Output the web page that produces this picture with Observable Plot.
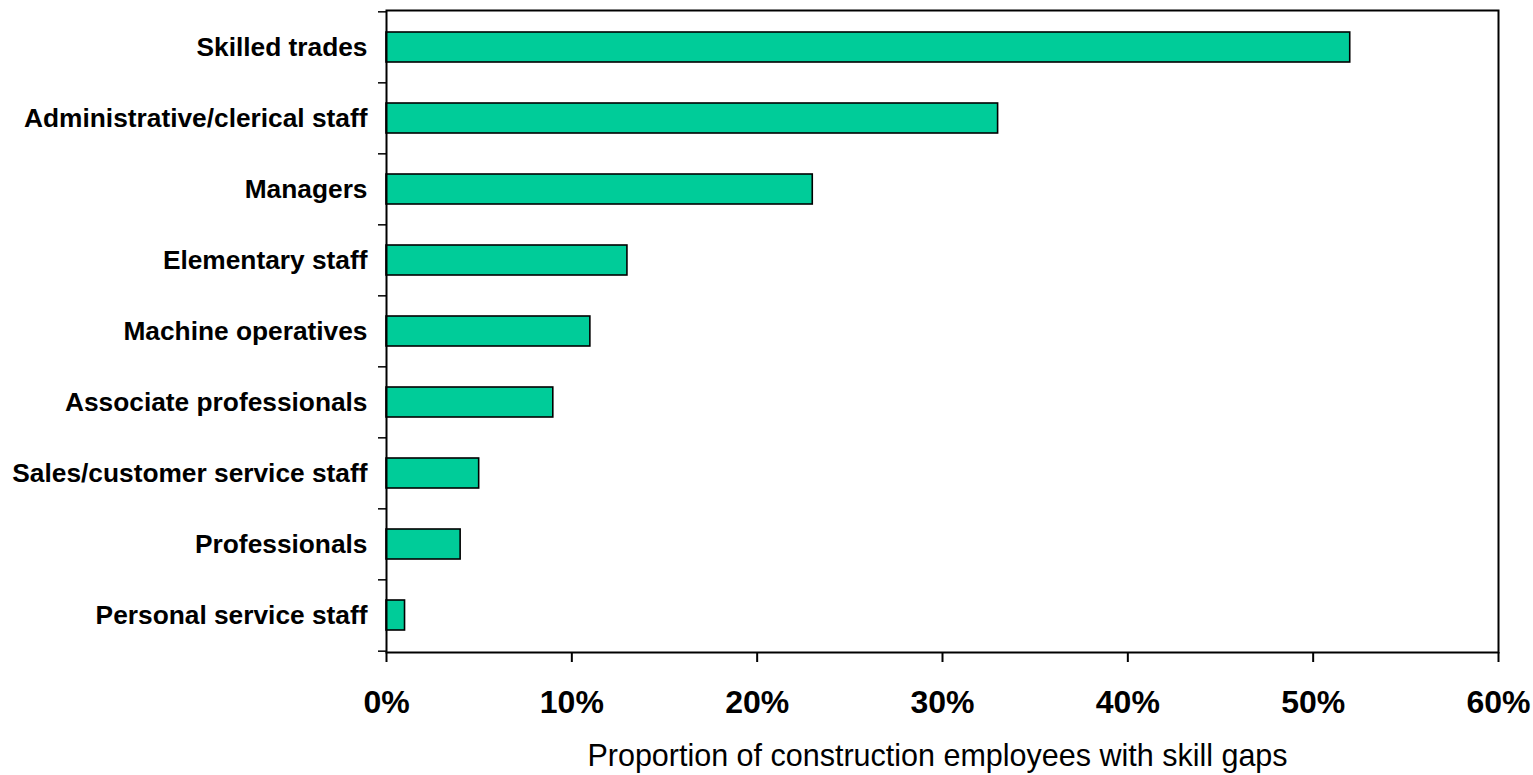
<!DOCTYPE html>
<html>
<head>
<meta charset="utf-8">
<script src="https://cdn.jsdelivr.net/npm/d3@7"></script>
<script src="https://cdn.jsdelivr.net/npm/@observablehq/plot@0.6"></script>
<style>
  html, body { margin: 0; padding: 0; background: #fff; overflow: hidden; }
  #chart svg { display: block; }
</style>
</head>
<body>
<div id="chart"></div>
<script>
const categories = [
  "Skilled trades",
  "Administrative/clerical staff",
  "Managers",
  "Elementary staff",
  "Machine operatives",
  "Associate professionals",
  "Sales/customer service staff",
  "Professionals",
  "Personal service staff"
];
const shares = [0.52, 0.33, 0.23, 0.13, 0.11, 0.09, 0.05, 0.04, 0.01];
const xTicks = [0, 0.1, 0.2, 0.3, 0.4, 0.5, 0.6];
const xTitle = "Proportion of construction employees with skill gaps";

const data = categories.map((c, i) => ({category: c, share: shares[i]}));

const W = 1533, H = 775;
const mTop = 10, mBottom = 123, mLeft = 386, mRight = 35;
const step = (H - mTop - mBottom) / categories.length;
const pad = 0.58;
const font = "'Liberation Sans', Arial, sans-serif";

const chart = Plot.plot({
  width: W,
  height: H,
  marginTop: mTop,
  marginBottom: mBottom,
  marginLeft: mLeft,
  marginRight: mRight,
  style: {fontFamily: font, color: "#000", background: "#fff", overflow: "visible"},
  x: {domain: [0, 0.6]},
  y: {domain: categories, paddingInner: pad, paddingOuter: pad / 2},
  marks: [
    Plot.barX(data, {x: "share", y: "category", fill: "#00CC99", stroke: "#000", strokeWidth: 1.6}),
    Plot.frame({stroke: "#000", strokeWidth: 2}),
    Plot.axisY({tickSize: 0, tickPadding: 19, fontSize: 26.3, fontWeight: "bold", label: null}),
    Plot.axisY({tickSize: 8, text: null, dy: -step / 2, strokeWidth: 1.5, label: null}),
    Plot.axisY([categories[categories.length - 1]], {tickSize: 8, text: null, dy: step / 2, strokeWidth: 1.5, label: null}),
    Plot.axisX(xTicks, {tickSize: 10, tickPadding: 28, strokeWidth: 2, fontSize: 32, fontWeight: "bold",
      tickFormat: d3.format(".0%"), label: null}),
    Plot.text([xTitle], {text: d => d, frameAnchor: "bottom", dx: -5, dy: 104, fontSize: 30.5, lineAnchor: "middle"})
  ]
});
document.getElementById("chart").appendChild(chart);
</script>
</body>
</html>
